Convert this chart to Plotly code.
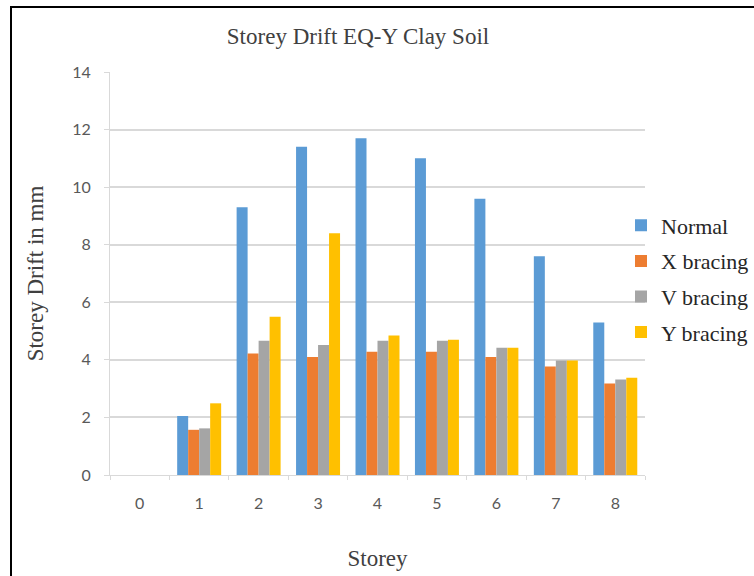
import plotly.graph_objects as go

storeys = ["0", "1", "2", "3", "4", "5", "6", "7", "8"]
normal = [0, 2.05, 9.3, 11.4, 11.7, 11.0, 9.6, 7.6, 5.3]
x_bracing = [0, 1.57, 4.22, 4.1, 4.28, 4.28, 4.1, 3.77, 3.18]
v_bracing = [0, 1.62, 4.66, 4.52, 4.66, 4.66, 4.42, 3.98, 3.32]
y_bracing = [0, 2.49, 5.5, 8.4, 4.85, 4.7, 4.42, 3.98, 3.38]
series_names = ["Normal", "X bracing", "V bracing", "Y bracing"]
colors = ["#5B9BD5", "#ED7D31", "#A5A5A5", "#FFC000"]
y_ticks = [0, 2, 4, 6, 8, 10, 12, 14]

fig = go.Figure()
for i, (name, vals) in enumerate(zip(series_names, [normal, x_bracing, v_bracing, y_bracing])):
    fig.add_trace(go.Bar(x=storeys, y=vals, name=name, marker_color=colors[i],
                         marker_line_width=0, legendgroup=str(i)))

L, R, T, B = 110, 109, 72, 101
W, H = 754, 576
pw, ph = W - L - R, H - T - B

def px_to_paper_x(px):
    return (px - L) / pw

def px_to_paper_y(py):
    return (H - B - py) / ph

serif = "Liberation Serif"
fig.update_layout(
    width=W, height=H,
    margin=dict(l=L, r=R, t=T, b=B, autoexpand=False),
    paper_bgcolor="white", plot_bgcolor="white",
    barmode="group", bargap=0.26, bargroupgap=0,
    title=dict(text="Storey Drift EQ-Y Clay Soil", x=px_to_paper_x(358), xref="paper",
               xanchor="center", y=1 - 36 / H, yanchor="middle",
               font=dict(family=serif, size=23, color="#404040")),
    legend=dict(x=px_to_paper_x(621), xanchor="left", y=px_to_paper_y(279), yanchor="middle",
                font=dict(family=serif, size=22, color="#262626"),
                bgcolor="rgba(0,0,0,0)", tracegroupgap=4, itemclick=False),
    xaxis=dict(type="category", showgrid=False, showline=True, linecolor="#D9D9D9",
               ticks="outside", tickson="boundaries", ticklen=4, tickcolor="#D9D9D9",
               ticklabelstandoff=14,
               tickfont=dict(family="Lato", size=16, color="#595959"),
               title=dict(text="Storey", standoff=38,
                          font=dict(family=serif, size=23, color="#404040"))),
    yaxis=dict(range=[0, 14], tickvals=y_ticks, showgrid=True, gridcolor="#D9D9D9",
               gridwidth=1.5, showline=True, linecolor="#D9D9D9", ticks="outside",
               ticklen=5, tickcolor="#D9D9D9", zeroline=False, ticklabelstandoff=10,
               tickfont=dict(family="Lato", size=16, color="#595959"),
               title=dict(text="Storey Drift in mm", standoff=22,
                          font=dict(family=serif, size=23, color="#404040"))),
    shapes=[dict(type="rect", xref="paper", yref="paper",
                 x0=px_to_paper_x(11), x1=px_to_paper_x(780),
                 y0=px_to_paper_y(600), y1=px_to_paper_y(7),
                 line=dict(color="black", width=2), fillcolor="rgba(0,0,0,0)", layer="above")],
)

fig.write_html("out.html", config={"displayModeBar": False},
               post_script="document.body.style.margin='0';document.body.style.overflow='hidden';")
